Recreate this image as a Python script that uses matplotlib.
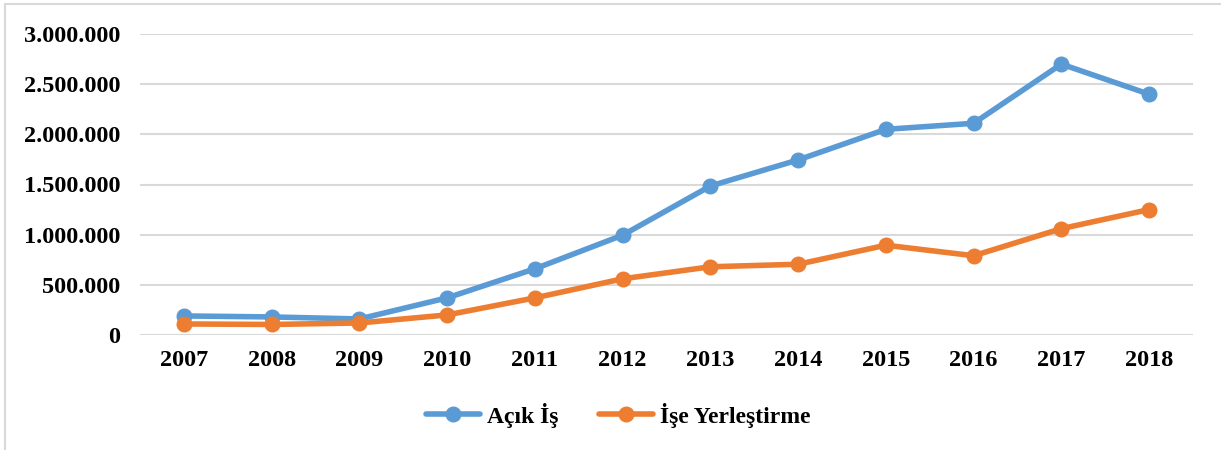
import matplotlib
matplotlib.use("Agg")
import matplotlib.pyplot as plt
from matplotlib.ticker import FuncFormatter
from matplotlib.patches import Rectangle

years = ["2007", "2008", "2009", "2010", "2011", "2012",
         "2013", "2014", "2015", "2016", "2017", "2018"]
acik_is = [190000, 180000, 160000, 370000, 660000, 995000,
           1485000, 1745000, 2050000, 2110000, 2700000, 2400000]
ise_yerlestirme = [110000, 105000, 120000, 200000, 370000, 560000,
                   680000, 705000, 895000, 790000, 1060000, 1250000]
series_names = ["Açık İş", "İşe Yerleştirme"]

blue = "#5b9bd5"
orange = "#ed7d31"
plt.rcParams['font.family'] = ['Liberation Serif', 'DejaVu Serif']
plt.rcParams['font.weight'] = 'bold'

W, H = 1221, 450
fig = plt.figure(figsize=(W / 100, H / 100), dpi=100)

# outer chart frame
fig.patches.append(Rectangle((5 / W, -0.1), 1.2, 1 - 4 / H + 0.1,
                             transform=fig.transFigure, fill=False,
                             edgecolor="#d9d9d9", linewidth=1.5))

ax = fig.add_axes([140 / W, 1 - 335 / H, (1193 - 140) / W, (335 - 34) / H])
x = list(range(len(years)))
ax.plot(x, acik_is, color=blue, linewidth=4, marker="o", markersize=10.5,
        label=series_names[0], solid_capstyle="round", zorder=3)
ax.plot(x, ise_yerlestirme, color=orange, linewidth=4, marker="o", markersize=10.5,
        label=series_names[1], solid_capstyle="round", zorder=3)

ax.set_xlim(-0.5, len(years) - 0.5)
ax.set_ylim(0, 3000000)
ax.set_yticks(range(0, 3000001, 500000))
ax.yaxis.set_major_formatter(FuncFormatter(lambda v, _: f"{int(v):,}".replace(",", ".")))
ax.set_xticks(x)
ax.set_xticklabels(years)
ax.grid(axis="y", color="#d9d9d9", linewidth=1.5)
ax.set_axisbelow(True)
for s in ax.spines.values():
    s.set_visible(False)
ax.tick_params(axis="both", length=0, labelsize=17.5)
ax.tick_params(axis="y", pad=14)
ax.tick_params(axis="x", pad=11)

fig.legend(loc="center", bbox_to_anchor=(618 / W, 1 - 415 / H), ncol=2,
           frameon=False, fontsize=17, handlelength=2.3, columnspacing=1.7,
           handletextpad=0.3)

fig.savefig("out.png", dpi=100)
